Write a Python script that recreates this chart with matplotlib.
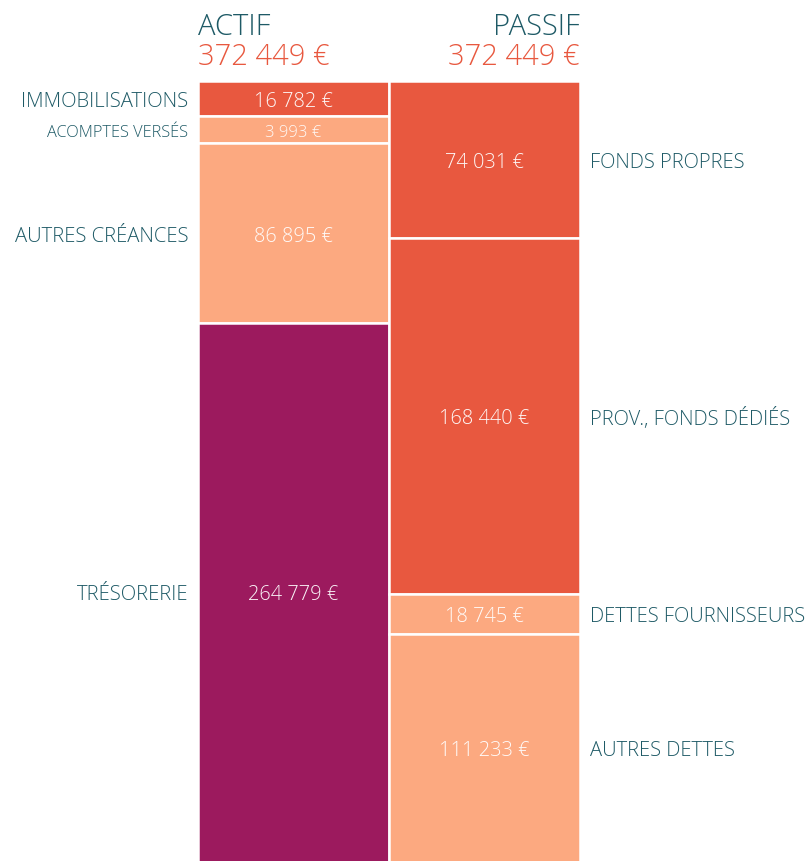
import matplotlib.pyplot as plt

# bilan : actif / passif
actif_labels = ["IMMOBILISATIONS", "ACOMPTES VERSÉS", "AUTRES CRÉANCES", "TRÉSORERIE"]
actif_values = [16782, 3993, 86895, 264779]
passif_labels = ["FONDS PROPRES", "PROV., FONDS DÉDIÉS", "DETTES FOURNISSEURS", "AUTRES DETTES"]
passif_values = [74031, 168440, 18745, 111233]

RED = "#E8583F"
PEACH = "#FCA980"
PLUM = "#9C1A5E"
TEAL = "#1E5A66"
actif_colors = [RED, PEACH, PEACH, PLUM]
passif_colors = [RED, RED, PEACH, PEACH]

MIN_H = 13500  # small blocks get a minimum height so the text fits

plt.rcParams['font.family'] = ['Open Sans', 'DejaVu Sans']


def fmt(v):
    return f"{v:,}".replace(",", " ") + " €"


total = sum(actif_values)

fig = plt.figure(figsize=(8.1, 8.62), dpi=100)
ax = fig.add_axes([198 / 810, 0, (580 - 198) / 810, (862 - 82) / 862])
ax.set_xlim(0, 2)
ax.set_ylim(total * 0.99, 0)
ax.axis('off')
ylo = total * 0.99


def column(x, labels, values, colors, side):
    # enlarge tiny blocks, then rescale so the column still sums to the total
    hs = [max(v, MIN_H) for v in values]
    k = sum(values) / sum(hs)
    bottom = 0
    for lab, v, h, c in zip(labels, values, hs, colors):
        h = h * k
        ax.bar(x, h, width=1, bottom=bottom, align='edge', color=c,
               edgecolor='white', linewidth=1.8)
        mid = (bottom + min(bottom + h, ylo)) / 2
        small = v < MIN_H
        ax.text(x + 0.5, mid, fmt(v), ha='center', va='center_baseline', color='white',
                fontsize=12 if small else 14.4, fontweight='light', alpha=0.95)
        if side == 'left':
            ax.text(x - 0.05, mid, lab, ha='right', va='center_baseline', color=TEAL,
                    fontsize=11.8 if small else 14.6, fontweight='light', clip_on=False)
        else:
            ax.text(x + 1.05, mid, lab, ha='left', va='center_baseline', color=TEAL,
                    fontsize=14.5, fontweight='light', clip_on=False)
        bottom += h


column(0, actif_labels, actif_values, actif_colors, 'left')
column(1, passif_labels, passif_values, passif_colors, 'right')

fig.text(198 / 810, 1 - 35 / 862, "ACTIF", ha='left', va='baseline',
         color=TEAL, fontsize=21, fontweight='light')
fig.text(198 / 810, 1 - 65 / 862, fmt(total), ha='left', va='baseline',
         color=RED, fontsize=21, fontweight='light')
fig.text(580 / 810, 1 - 35 / 862, "PASSIF", ha='right', va='baseline',
         color=TEAL, fontsize=21, fontweight='light')
fig.text(580 / 810, 1 - 65 / 862, fmt(sum(passif_values)), ha='right', va='baseline',
         color=RED, fontsize=21, fontweight='light')

plt.savefig('out.png', dpi=100)
